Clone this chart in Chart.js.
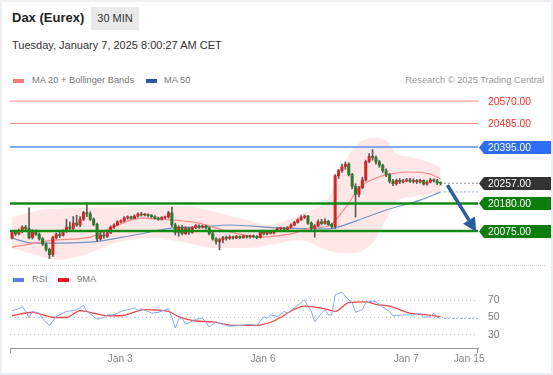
<!DOCTYPE html>
<html>
<head>
<meta charset="utf-8">
<script src="https://cdn.jsdelivr.net/npm/chart.js@4.4.1/dist/chart.umd.min.js"></script>
<style>
body { margin:0; background:#fff; font-family:"Liberation Sans", Arial, sans-serif; }
#wrap { position:relative; width:553px; height:375px; overflow:hidden; }
.abs { position:absolute; white-space:nowrap; }
#title { left:12px; top:10px; font-size:13px; font-weight:bold; color:#222; line-height:15px; }
#tf { left:91px; top:7px; width:48px; height:23px; line-height:23px; text-align:center; background:#e9e9e9; font-size:11px; color:#333; }
#date { left:12px; top:39px; font-size:11px; color:#333; line-height:13px; }
.leg { font-size:9.3px; color:#777; line-height:11px; }
.sw { position:absolute; width:11px; height:4px; }
#sep { left:8px; top:265px; width:537px; border-top:1px dotted #cfcfcf; }
#frame { position:absolute; left:0; top:0; width:553px; height:375px; box-sizing:border-box; border:2px solid #edf0f2; pointer-events:none; }
canvas { position:absolute; left:0; }
</style>
</head>
<body>
<div id="wrap">
  <div class="abs" id="title">Dax (Eurex)</div>
  <div class="abs" id="tf">30 MIN</div>
  <div class="abs" id="date">Tuesday, January 7, 2025 8:00:27 AM CET</div>

  <div class="sw" style="left:13px;top:79px;background:#f77b7b"></div>
  <div class="abs leg" style="left:32px;top:75px">MA 20 + Bollinger Bands</div>
  <div class="sw" style="left:146px;top:79px;background:#2c5aa0"></div>
  <div class="abs leg" style="left:164px;top:75px">MA 50</div>
  <div class="abs leg" style="right:9px;top:75px;color:#999">Research © 2025 Trading Central</div>

  <canvas id="main" width="553" height="174" style="top:88px"></canvas>

  <div class="abs" id="sep"></div>
  <div class="sw" style="left:13px;top:278px;background:#5b80e4"></div>
  <div class="abs leg" style="left:32px;top:274px">RSI</div>
  <div class="sw" style="left:58px;top:278px;background:#ee1c1c"></div>
  <div class="abs leg" style="left:77px;top:274px">9MA</div>

  <canvas id="rsi" width="553" height="90" style="top:284px"></canvas>
  <div id="frame"></div>
</div>
<script>
// 30 min candles, Jan 2 - Jan 7 2025
var opens = [20048,20071,20064,20075,20090,20085,20050,20075,20062,20045,
  20025,20005,19985,20050,20062,20058,20075,20090,20085,20105,
  20098,20120,20145,20140,20120,20100,20045,20060,20055,20068,
  20090,20098,20110,20114,20125,20129,20123,20132,20140,20136,
  20139,20134,20130,20124,20120,20126,20129,20144,20098,20070,
  20090,20065,20085,20070,20088,20095,20090,20094,20088,20065,
  20045,20035,20042,20050,20047,20053,20049,20054,20050,20056,
  20052,20057,20053,20050,20072,20064,20070,20067,20074,20084,
  20087,20082,20088,20098,20108,20118,20128,20132,20105,20085,
  20095,20110,20104,20112,20100,20092,20285,20305,20320,20330,
  20290,20245,20215,20240,20270,20340,20360,20355,20338,20325,
  20305,20290,20265,20255,20268,20262,20266,20270,20264,20268,
  20262,20268,20254,20262,20270,20266,20258];
var highs = [20075,20078,20082,20095,20096,20163,20080,20080,20068,20050,
  20030,20010,20055,20068,20070,20080,20120,20110,20130,20135,
  20130,20150,20182,20148,20125,20105,20070,20072,20075,20095,
  20102,20115,20118,20130,20133,20132,20137,20144,20146,20142,
  20141,20138,20134,20128,20130,20132,20150,20166,20105,20095,
  20098,20092,20090,20092,20100,20099,20098,20097,20090,20070,
  20050,20048,20055,20056,20058,20056,20058,20057,20060,20058,
  20060,20060,20058,20076,20078,20075,20074,20078,20088,20090,
  20089,20092,20102,20112,20122,20134,20136,20135,20110,20100,
  20118,20120,20122,20116,20105,20290,20310,20330,20338,20335,
  20295,20255,20245,20280,20345,20370,20385,20362,20345,20330,
  20312,20295,20272,20272,20275,20272,20276,20276,20274,20272,
  20273,20270,20266,20276,20274,20272,20262];
var lows = [20045,20058,20060,20068,20080,20045,20045,20058,20040,20020,
  19998,19970,19978,20045,20050,20055,20070,20078,20080,20092,
  20092,20115,20130,20115,20095,20035,20040,20048,20050,20065,
  20085,20095,20106,20110,20120,20120,20122,20128,20132,20132,
  20128,20125,20120,20116,20116,20122,20124,20092,20060,20055,
  20060,20062,20062,20066,20084,20085,20086,20082,20060,20040,
  20025,20003,20030,20040,20043,20044,20045,20046,20047,20048,
  20048,20049,20046,20048,20060,20060,20063,20064,20072,20080,
  20078,20080,20086,20095,20105,20115,20122,20100,20080,20052,
  20092,20100,20100,20096,20085,20085,20275,20298,20310,20285,
  20235,20128,20205,20235,20265,20335,20345,20330,20318,20298,
  20282,20258,20248,20250,20256,20258,20262,20260,20258,20256,
  20258,20250,20250,20258,20262,20252,20250];
var closes = [20071,20064,20075,20090,20085,20050,20075,20062,20045,20025,
  20005,19985,20050,20062,20058,20075,20090,20085,20105,20098,
  20120,20145,20140,20120,20100,20045,20060,20055,20068,20090,
  20098,20110,20114,20125,20129,20123,20132,20140,20136,20139,
  20134,20130,20124,20120,20126,20129,20144,20098,20070,20090,
  20065,20085,20070,20088,20095,20090,20094,20088,20065,20045,
  20035,20042,20050,20047,20053,20049,20054,20050,20056,20052,
  20057,20053,20050,20072,20064,20070,20067,20074,20084,20087,
  20082,20088,20098,20108,20118,20128,20132,20105,20085,20095,
  20110,20104,20112,20100,20092,20285,20305,20320,20330,20290,
  20245,20215,20240,20270,20340,20360,20355,20338,20325,20305,
  20290,20265,20255,20268,20262,20266,20270,20264,20268,20262,
  20268,20254,20262,20270,20266,20258,20257];

// moving averages / bands, read at candle indexes
var ma20At = [0,5,12,23,29,38,47,55,61,73,82,88,93,98,102,107,111,117,123,126];
var ma20   = [20014,20025,20040,20052,20086,20124,20117,20105,20082,20052,20064,20086,20094,20163,20239,20277,20292,20300,20292,20273];
var bandAt = [0,8,13,22,30,42,50,60,69,75,85,93,98,100,106,110,113,118,123,126];
var bandUp = [20128,20155,20160,20166,20166,20170,20170,20147,20117,20098,20140,20200,20340,20385,20430,20420,20370,20355,20335,20315];
var bandLo = [20010,19980,19965,19987,20029,20048,20033,20010,20010,20020,20040,20000,19990,19990,20030,20120,20190,20205,20215,20225];
var ma50At = [0,6,23,36,47,55,64,79,93,101,110,120,126];
var ma50   = [20048,20029,20033,20060,20086,20090,20098,20086,20083,20113,20155,20193,20224];

// RSI panel
var rsiAt = [0,2,3,4,5,6,8,9,11,13,14,16,18,19,21,22,24,25,27,28,30,32,34,36,37,38,40,41,43,46,47,48,49,50,51,53,54,56,57,58,60,62,64,67,70,72,74,75,76,78,80,81,83,86,87,88,89,91,92,93,94,95,97,99,100,101,103,104,106,107,109,111,112,115,118,120,121,123,124,125,126];
var rsi   = [58,60,62.5,57,50,57,55,48,41,51,53,57,58,59,64,57,51,48,50,53,53,57,59,61,58,60,57,55,56,60,50,38,48,50,42,46,48,49,45,39,45,42,40,41,42,41,51,49,53,51,57,55,61,70,63,57,45,55,59,53,53,76,79,70,67,56,59,67,69,68,62,57,52,53,53,55,50,51,55,50,49];
var rsiMaAt = [0,6,9,13,16,20,24,28,32,39,46,49,54,59,65,72,77,78,86,92,95,99,104,107,111,117,122,126];
var rsiMa   = [52,56,53,50,50,58,55,52,52,59,57,51,46,45,41,41,46,48,63,60,57,67,68,65,63,55,53,51];
var rsiTicks = [30,50,70];

// levels and axis
var levelValues = [20570,20485,20395,20180,20075];
var lastPrice = closes[closes.length-1];
var xTickAt = [31.8,73.8,115.9,134.4];
var xTickLabels = ['Jan 3','Jan 6','Jan 7','Jan 15'];
var arrowFrom = [128, 20250];
var arrowTo = [136.5, 20071];

var X_MIN = -0.6, X_MAX = 137;
var FONT = '"Liberation Sans", Arial, sans-serif';
Chart.defaults.font.family = FONT;

var levelStyle = {
  20570: {line:'#ff8a8a', w:1, text:'#ff2a2a'},
  20485: {line:'#ff8a8a', w:1, text:'#ff2a2a'},
  20395: {line:'#5b8cf2', w:1.5, text:'#fff', box:'#2f6df6'},
  20257: {text:'#fff', box:'#333'},
  20180: {line:'#138a13', w:2.5, text:'#fff', box:'#0d7d0d'},
  20075: {line:'#138a13', w:2.5, text:'#fff', box:'#0d7d0d'}
};

function pts(at, vals) {
  return at.map(function(v, k) { return {x:v, y:vals[k]}; });
}
var idx = closes.map(function(c, i) { return i; });

var datasets = [];
datasets.push({
  type:'bar', order:3, grouped:false, barThickness:2.4, minBarLength:1,
  data: idx.map(function(i) { return {x:i, y:[opens[i], closes[i]]}; }),
  backgroundColor: idx.map(function(i) { return closes[i] >= opens[i] ? '#d42626' : '#2b7a2b'; })
});
datasets.push({
  type:'bar', order:4, grouped:false, barThickness:1,
  data: idx.map(function(i) { return {x:i, y:[lows[i], highs[i]]}; }),
  backgroundColor:'#5a5a5a'
});
datasets.push({type:'line', order:10, data:pts(bandAt, bandUp), borderColor:'transparent', borderWidth:0,
  fill:'+1', backgroundColor:'rgba(255,70,70,0.13)', cubicInterpolationMode:'monotone'});
datasets.push({type:'line', order:10, data:pts(bandAt, bandLo), borderColor:'transparent', borderWidth:0,
  fill:false, cubicInterpolationMode:'monotone'});
datasets.push({type:'line', order:5, data:pts(ma20At, ma20), borderColor:'#ff8a8a', borderWidth:1.2, cubicInterpolationMode:'monotone'});
datasets.push({type:'line', order:5, data:pts(ma50At, ma50), borderColor:'#7393c8', borderWidth:1.2, cubicInterpolationMode:'monotone'});
levelValues.forEach(function(v) {
  var st = levelStyle[v];
  datasets.push({type:'line', order:1, data:[{x:X_MIN, y:v}, {x:X_MAX, y:v}], borderColor:st.line, borderWidth:st.w});
});
datasets.push({type:'line', order:1, data:[{x:127, y:lastPrice}, {x:X_MAX, y:lastPrice}],
  borderColor:'#8a8a8a', borderWidth:1, borderDash:[2,2]});
datasets.push({type:'line', order:1, data:[{x:127, y:ma50[ma50.length-1]}, {x:X_MAX, y:ma50[ma50.length-1]}],
  borderColor:'#93acd9', borderWidth:1, borderDash:[2,2]});

var labelsPlugin = {
  id:'levelLabels',
  afterDatasetsDraw: function(chart) {
    var ctx = chart.ctx, xs = chart.scales.x, ys = chart.scales.y;
    ctx.save();
    ctx.font = '10.3px ' + FONT;
    ctx.textBaseline = 'middle';
    var all = levelValues.slice(0, 3).concat([lastPrice]).concat(levelValues.slice(3));
    all.forEach(function(v) {
      var st = levelStyle[v], py = Math.round(ys.getPixelForValue(v)) + 0.5, left = xs.right + 1;
      if (st.box) {
        ctx.fillStyle = st.box;
        ctx.beginPath();
        ctx.moveTo(left, py);
        ctx.lineTo(left + 5, py - 6.5);
        ctx.lineTo(551, py - 6.5);
        ctx.lineTo(551, py + 6.5);
        ctx.lineTo(left + 5, py + 6.5);
        ctx.closePath();
        ctx.fill();
      }
      ctx.fillStyle = st.text;
      ctx.fillText(v.toFixed(2), left + 9, py + 0.5);
    });
    // forecast arrow
    var x1 = xs.getPixelForValue(arrowFrom[0]), y1 = ys.getPixelForValue(arrowFrom[1]);
    var x2 = xs.getPixelForValue(arrowTo[0]), y2 = ys.getPixelForValue(arrowTo[1]);
    var a = Math.atan2(y2 - y1, x2 - x1), hl = 14, hw = 7;
    var bx = x2 - hl * Math.cos(a), by = y2 - hl * Math.sin(a);
    ctx.strokeStyle = ctx.fillStyle = '#2b5c9e';
    ctx.lineWidth = 3.5;
    ctx.beginPath(); ctx.moveTo(x1, y1); ctx.lineTo(bx, by); ctx.stroke();
    ctx.beginPath();
    ctx.moveTo(x2, y2);
    ctx.lineTo(bx + hw * Math.sin(a), by - hw * Math.cos(a));
    ctx.lineTo(bx - hw * Math.sin(a), by + hw * Math.cos(a));
    ctx.closePath(); ctx.fill();
    ctx.restore();
  }
};

new Chart(document.getElementById('main'), {
  type:'bar',
  data:{datasets:datasets},
  options:{
    responsive:false, animation:false,
    layout:{padding:{left:10, right:75, top:0, bottom:0}},
    elements:{point:{radius:0}},
    plugins:{legend:{display:false}, tooltip:{enabled:false}},
    scales:{
      x:{type:'linear', display:false, min:X_MIN, max:X_MAX, offset:false},
      y:{display:false, min:19957, max:20620}
    }
  },
  plugins:[labelsPlugin]
});

var axisEnds = {
  id:'axisEnds',
  afterDraw: function(chart) {
    var ctx = chart.ctx, a = chart.chartArea;
    ctx.save();
    ctx.strokeStyle = '#9a9a9a'; ctx.lineWidth = 1;
    ctx.beginPath();
    ctx.moveTo(a.left + 0.5, a.bottom); ctx.lineTo(a.left + 0.5, a.bottom + 5);
    ctx.moveTo(a.right - 0.5, a.bottom); ctx.lineTo(a.right - 0.5, a.bottom + 5);
    ctx.stroke();
    ctx.restore();
  }
};

new Chart(document.getElementById('rsi'), {
  type:'line',
  data:{datasets:[
    {data:pts(rsiAt, rsi), borderColor:'#8da6ef', borderWidth:1},
    {data:pts(rsiMaAt, rsiMa), borderColor:'#f04646', borderWidth:1.3, cubicInterpolationMode:'monotone'},
    {data:[{x:127, y:rsi[rsi.length-1]}, {x:X_MAX, y:rsi[rsi.length-1]}], borderColor:'#9fb4ee', borderWidth:1, borderDash:[2,2]}
  ]},
  options:{
    responsive:false, animation:false,
    layout:{padding:{left:10, top:3, right:0, bottom:0}},
    elements:{point:{radius:0}},
    plugins:{legend:{display:false}, tooltip:{enabled:false}},
    scales:{
      x:{
        type:'linear', min:X_MIN, max:X_MAX,
        afterBuildTicks: function(s) { s.ticks = xTickAt.map(function(v) { return {value:v}; }); },
        afterFit: function(s) { s.height = 26; s.paddingLeft = 0; s.paddingRight = 0; },
        ticks:{autoSkip:false, maxRotation:0, padding:5, color:'#888', font:{size:10.3},
          callback: function(v) { return xTickLabels[xTickAt.indexOf(v)]; }},
        grid:{display:false, drawTicks:false},
        border:{display:true, color:'#9a9a9a'}
      },
      y:{
        position:'right', min:15, max:85,
        afterBuildTicks: function(s) { s.ticks = rsiTicks.map(function(v) { return {value:v}; }); },
        afterFit: function(s) { s.width = 75; s.paddingTop = 0; s.paddingBottom = 0; },
        ticks:{padding:10, color:'#777', font:{size:10.3}},
        grid:{color:'#bdbdbd', drawTicks:false},
        border:{display:false, dash:[1,3]}
      }
    }
  },
  plugins:[axisEnds]
});
</script>
</body>
</html>
